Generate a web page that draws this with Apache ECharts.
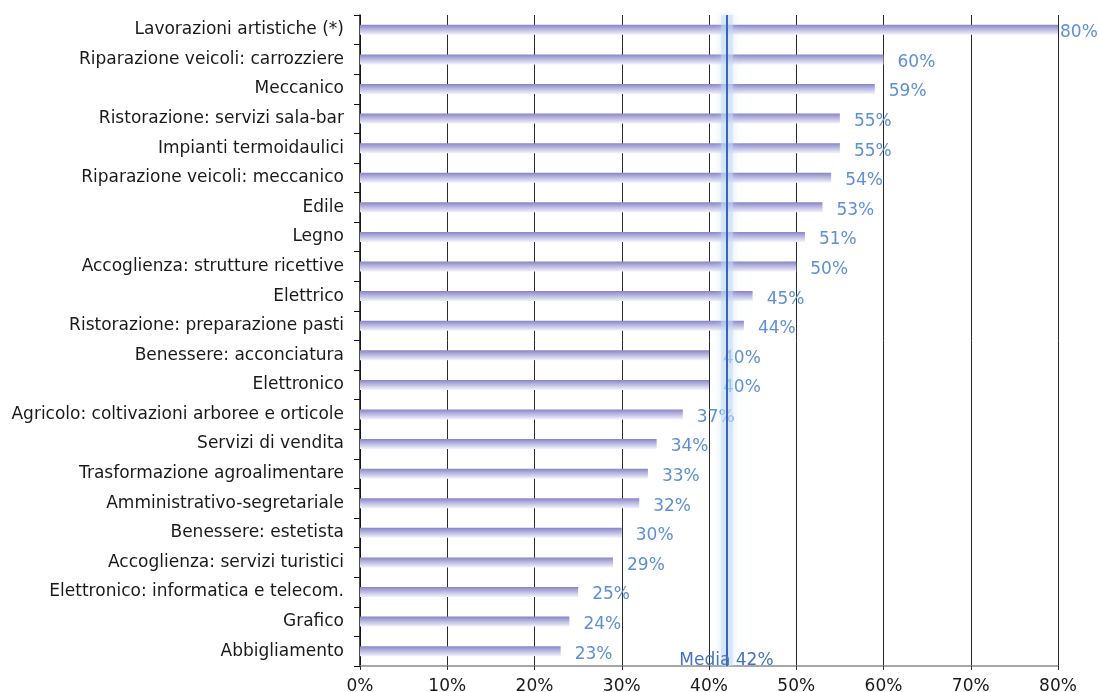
<!DOCTYPE html>
<html>
<head>
<meta charset="utf-8">
<script src="https://cdn.jsdelivr.net/npm/echarts@6/dist/echarts.min.js"></script>
<style>
  html, body { margin: 0; padding: 0; background: #fff; }
  #chart { width: 1099px; height: 692px; }
</style>
</head>
<body>
<div id="chart"></div>
<script>
// Settori professionali, dall'alto verso il basso
const categories = [
  "Lavorazioni artistiche (*)",
  "Riparazione veicoli: carrozziere",
  "Meccanico",
  "Ristorazione: servizi sala-bar",
  "Impianti termoidaulici",
  "Riparazione veicoli: meccanico",
  "Edile",
  "Legno",
  "Accoglienza: strutture ricettive",
  "Elettrico",
  "Ristorazione: preparazione pasti",
  "Benessere: acconciatura",
  "Elettronico",
  "Agricolo: coltivazioni arboree e orticole",
  "Servizi di vendita",
  "Trasformazione agroalimentare",
  "Amministrativo-segretariale",
  "Benessere: estetista",
  "Accoglienza: servizi turistici",
  "Elettronico: informatica e telecom.",
  "Grafico",
  "Abbigliamento"
];

// Percentuali per settore
const values = [80, 60, 59, 55, 55, 54, 53, 51, 50, 45, 44, 40, 40, 37, 34, 33, 32, 30, 29, 25, 24, 23];

// Media complessiva
const mean = 42;

// Scala dell'asse orizzontale
const axisMin = 0;
const axisMax = 80;
const axisStep = 10;

const FONT = 'DejaVu Sans, Liberation Sans, Arial, sans-serif';

const chart = echarts.init(document.getElementById('chart'), null, { renderer: 'canvas' });

// l'etichetta della barra piena resta attaccata al bordo destro
const barData = values.map(v => v >= axisMax
  ? { value: v, label: { distance: 2 } }
  : v);

chart.setOption({
  animation: false,
  backgroundColor: '#ffffff',
  textStyle: { fontFamily: FONT },
  grid: { left: 360, right: 41, top: 15, bottom: 26, containLabel: false, outerBoundsMode: 'none' },
  xAxis: {
    type: 'value',
    min: axisMin,
    max: axisMax,
    interval: axisStep,
    axisLine: { show: true, lineStyle: { color: '#8a8a8a', width: 1.5 } },
    axisTick: { show: true, length: 4, lineStyle: { color: '#333' } },
    axisLabel: {
      formatter: '{value}%',
      color: '#1a1a1a',
      fontFamily: FONT,
      fontSize: 17,
      margin: 12
    },
    splitLine: { show: true, lineStyle: { color: '#2a2a2a', width: 1 } }
  },
  yAxis: {
    type: 'category',
    data: categories,
    inverse: true,
    axisLine: { show: true, lineStyle: { color: '#111', width: 1.5 } },
    axisTick: { show: true, length: 6, lineStyle: { color: '#111' } },
    axisLabel: { color: '#1a1a1a', fontFamily: FONT, fontSize: 17, margin: 16 },
    splitLine: { show: false }
  },
  series: [{
    type: 'bar',
    data: barData,
    barWidth: 10,
    itemStyle: {
      color: new echarts.graphic.LinearGradient(0, 0, 0, 1, [
        { offset: 0, color: '#8784c6' },
        { offset: 0.35, color: '#aeacdb' },
        { offset: 1, color: '#f3f3fb' }
      ])
    },
    label: {
      show: true,
      position: 'right',
      distance: 14,
      offset: [0, 3],
      formatter: '{c}%',
      color: '#5e8fd6',
      fontFamily: FONT,
      fontSize: 17
    },
    markLine: {
      silent: true,
      symbol: 'none',
      data: [
        {
          // alone chiaro attorno alla linea della media
          xAxis: mean,
          lineStyle: { color: 'rgba(195,218,248,0.5)', width: 12, type: 'solid', shadowBlur: 8, shadowColor: 'rgba(185,212,247,0.9)' },
          label: { show: false }
        },
        {
          xAxis: mean,
          lineStyle: { color: '#3a64b8', width: 2, type: 'solid' },
          label: {
            show: true,
            position: 'end',
            distance: -14,
            formatter: 'Media ' + mean + '%',
            color: '#4472c4',
            fontFamily: FONT,
            fontSize: 17
          }
        }
      ]
    }
  }]
});
</script>
</body>
</html>
